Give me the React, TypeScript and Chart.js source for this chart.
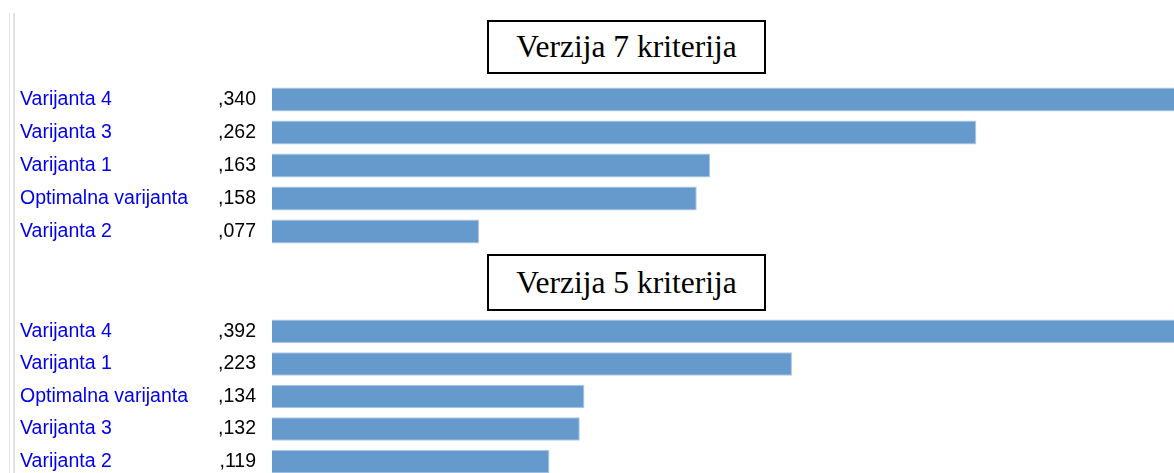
import React, { useEffect, useRef } from "react";
import { Chart, registerables } from "chart.js";

Chart.register(...registerables);

const title7 = "Verzija 7 kriterija";
const categories7 = ["Varijanta 4", "Varijanta 3", "Varijanta 1", "Optimalna varijanta", "Varijanta 2"];
const values7 = [0.34, 0.262, 0.163, 0.158, 0.077];

const title5 = "Verzija 5 kriterija";
const categories5 = ["Varijanta 4", "Varijanta 1", "Optimalna varijanta", "Varijanta 3", "Varijanta 2"];
const values5 = [0.392, 0.223, 0.134, 0.132, 0.119];

const fmt = (v: number) => v.toFixed(3).replace(/^0\./, ",");

const LABEL_FONT = { family: "'Liberation Sans', Arial, sans-serif", size: 19.5 };

const fixWidth = (w: number) => (s: any) => {
  s.width = w;
  s.paddingTop = 0;
  s.paddingBottom = 0;
  s.paddingLeft = 0;
  s.paddingRight = 0;
};

function Panel({ labels, values, top, height }: { labels: string[]; values: number[]; top: number; height: number }) {
  const ref = useRef<HTMLCanvasElement | null>(null);
  useEffect(() => {
    if (!ref.current) return;
    const chart = new Chart(ref.current, {
      type: "bar",
      data: {
        labels,
        datasets: [
          {
            data: values,
            backgroundColor: "#6699cc",
            borderColor: "#a9c8e8",
            borderWidth: 1,
            barPercentage: 0.72,
            categoryPercentage: 1,
            yAxisID: "y",
          },
        ],
      },
      options: {
        indexAxis: "y",
        responsive: false,
        animation: false,
        devicePixelRatio: 1,
        layout: { padding: { left: 20, right: 0, top: 0, bottom: 0 } },
        plugins: { legend: { display: false }, tooltip: { enabled: false } },
        scales: {
          x: { min: 0, max: Math.max(...values), display: false },
          y: {
            type: "category",
            position: "left",
            weight: 2,
            offset: true,
            grid: { display: false, drawTicks: false },
            border: { display: false },
            ticks: { crossAlign: "far", color: "#0000ee", font: LABEL_FONT, padding: 0, autoSkip: false },
            afterFit: fixWidth(198),
          },
          yv: {
            type: "category",
            position: "left",
            axis: "y",
            weight: 1,
            offset: true,
            labels: values.map(fmt),
            grid: { display: false, drawTicks: false },
            border: { display: false },
            ticks: { crossAlign: "near", color: "#000000", font: LABEL_FONT, padding: 16, autoSkip: false },
            afterFit: fixWidth(54),
          },
        },
      } as any,
    });
    return () => chart.destroy();
  }, [labels, values]);
  return (
    <canvas
      ref={ref}
      width={1186}
      height={height}
      style={{ position: "absolute", left: 0, top, display: "block" }}
    />
  );
}

const boxStyle = (top: number, height: number): React.CSSProperties => ({
  position: "absolute",
  left: 487,
  top,
  width: 279,
  height,
  boxSizing: "border-box",
  border: "2px solid #000",
  display: "flex",
  alignItems: "center",
  justifyContent: "center",
  fontFamily: "'Liberation Serif', 'Times New Roman', serif",
  fontSize: 31.5,
  lineHeight: 1,
  color: "#000",
  background: "#fff",
});

export default function App() {
  return (
    <div
      style={{
        position: "fixed",
        left: 0,
        top: 0,
        width: 1174,
        height: 473,
        overflow: "hidden",
        background: "#fff",
      }}
    >
      <div
        style={{
          position: "absolute",
          left: 9,
          top: 13,
          width: 3,
          height: 470,
          borderLeft: "1px solid #e2e2e2",
          borderRight: "2px solid #e2e2e2",
        }}
      />
      <div style={boxStyle(20, 54)}>{title7}</div>
      <Panel labels={categories7} values={values7} top={83} height={165} />
      <div style={boxStyle(254, 57)}>{title5}</div>
      <Panel labels={categories5} values={values5} top={315} height={163} />
    </div>
  );
}
